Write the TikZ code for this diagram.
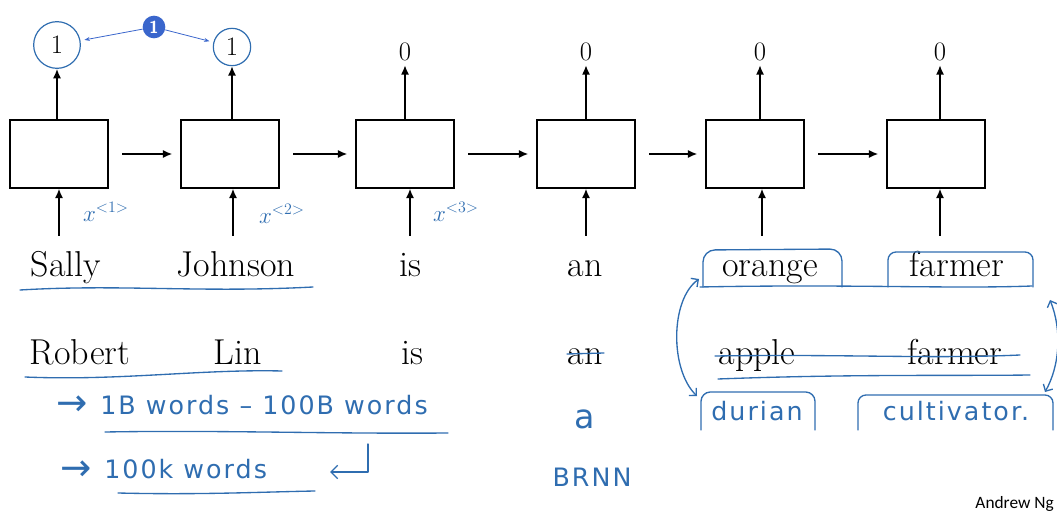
\documentclass[tikz,border=0pt]{standalone}
\usepackage{fontspec}
\usetikzlibrary{arrows.meta}
\definecolor{hblue}{HTML}{2F6DB0}
\definecolor{ablue}{HTML}{3A66CC}
\newfontfamily\notefont{Carlito}
\newfontfamily\handfont[LetterSpace=8]{DejaVu Sans}
\begin{document}
\begin{tikzpicture}[x=0.75pt,y=-0.75pt,
  rnn/.style={draw, line width=1.1pt, minimum width=73.5pt, minimum height=51pt, inner sep=0},
  word/.style={font=\fontsize{27}{30}\selectfont, inner sep=0, anchor=base},
  outlbl/.style={font=\fontsize{20}{22}\selectfont, inner sep=2pt},
  arr/.style={line width=1.1pt, -{Latex[length=7pt,width=6pt]}},
  hand/.style={hblue, line width=1pt, line cap=round, line join=round},
  harr/.style={hand, {Straight Barb[length=4pt]}-{Straight Barb[length=4pt]}},
  htext/.style={text=hblue, font=\handfont\fontsize{19}{22}\selectfont, inner sep=0, anchor=base west},
  hbig/.style={htext, font=\handfont\fontsize{28}{30}\selectfont},
  xlbl/.style={text=hblue, font=\fontsize{18}{20}\selectfont, inner sep=0},
]
\useasboundingbox (0,0) rectangle (1057,513);
\clip (0,0) rectangle (1057,513);

% RNN cells
\node[rnn] (b1) at (59,154) {};
\node[rnn] (b2) at (230,154) {};
\node[rnn] (b3) at (405,154) {};
\node[rnn] (b4) at (586,154) {};
\node[rnn] (b5) at (755,154) {};
\node[rnn] (b6) at (936,154) {};

\foreach \a/\b in {b1/b2,b2/b3,b3/b4,b4/b5,b5/b6}
  \draw[arr, shorten <=10pt, shorten >=6pt] (\a) -- (\b);

% outputs
\node[circle, draw=hblue, line width=0.9pt, inner sep=0, font=\fontsize{20}{22}\selectfont, minimum size=35pt] (o1) at (57,45) {1};
\node[circle, draw=hblue, line width=0.9pt, inner sep=0, font=\fontsize{20}{22}\selectfont, minimum size=28pt] (o2) at (232,47) {1};
\node[outlbl] (o3) at (405,52) {0};
\node[outlbl] (o4) at (586,52) {0};
\node[outlbl] (o5) at (760,52) {0};
\node[outlbl] (o6) at (940,52) {0};
\draw[arr] (b1.north -| o1) -- (o1.south);
\draw[arr] (b2.north -| o2) -- (o2.south);
\foreach \b/\o in {b3/o3,b4/o4,b5/o5,b6/o6}
  \draw[arr, shorten >=1pt] (\b.north -| \o) -- (\o.south);

% annotation
\node[circle, fill=ablue, text=white, inner sep=0, minimum size=17pt,
      font=\sffamily\bfseries\fontsize{13}{13}\selectfont] (ann) at (154,27) {1};
\draw[ablue, line width=0.6pt, -{Stealth[length=4pt,width=3pt]}, shorten >=3pt] (ann) -- (o1);
\draw[ablue, line width=0.6pt, -{Stealth[length=4pt,width=3pt]}, shorten >=3pt] (ann) -- (o2);

% inputs
\coordinate (i1) at (59,236);
\coordinate (i2) at (233,236);
\coordinate (i3) at (410,236);
\coordinate (i4) at (586,236);
\coordinate (i5) at (762,236);
\coordinate (i6) at (940,236);
\foreach \i/\b in {i1/b1,i2/b2,i3/b3,i4/b4,i5/b5,i6/b6}
  \draw[arr] (\i) -- (\i |- \b.south);

\node[xlbl] (x1) at (106,212) {$x^{<1>}$};
\node[xlbl] (x2) at (282,214) {$x^{<2>}$};
\node[xlbl] (x3) at (456,212) {$x^{<3>}$};

% sentence 1
\node[word] (w1) at (66,277) {Sally};
\node[word] (w2) at (236,277) {Johnson};
\node[word] (w3) at (410,277) {is};
\node[word] (w4) at (585,277) {an};
\node[word] (w5) at (770,277) {orange};
\node[word] (w6) at (957,277) {farmer};

% sentence 2
\node[word] (r1) at (80,364) {Robert};
\node[word] (r2) at (238,364) {Lin};
\node[word] (r3) at (412,364) {is};
\node[word] (r4) at (585,364) {an};
\node[word] (r5) at (757,364) {apple};
\node[word] (r6) at (955,364) {farmer};

% handwritten marks
\draw[hand] (20,290) .. controls (120,284) and (200,293) .. (313,287);
\draw[hand] (25,377) .. controls (120,381) and (200,369) .. (282,371);
\draw[hand] (567,354) -- (604,353);
\draw[hand] (715,356) .. controls (850,354) and (930,359) .. (1020,355);
\draw[hand] (718,379) .. controls (850,374) and (950,376) .. (1030,375);

\node[hbig] (n1a) at (56,416) {→};
\node[htext] (n1) at (100,414) {1B words – 100B words};
\draw[hand] (105,432) .. controls (220,430) and (330,434) .. (448,433);
\node[hbig] (n2a) at (60,480) {→};
\node[htext] (n2) at (104,478) {100k words};
\draw[hand] (118,493) .. controls (200,495) and (260,492) .. (315,491);
\coordinate (h1) at (368,444);
\coordinate (h2) at (368,472);
\coordinate (h3) at (330,472);
\draw[hand, -{Straight Barb[length=5pt]}] (h1) -- (h2) -- (h3);

\node[htext, anchor=base, font=\handfont\fontsize{25}{27}\selectfont] (na) at (585,428) {a};
\node[htext, anchor=base] (nb) at (592,486) {BRNN};

% boxes around orange / farmer
\draw[hand, rounded corners=9pt] (703,287) -- (703,250) -- (842,249) -- (842,287);
\draw[hand, rounded corners=6pt] (888,287) -- (888,252) -- (1033,252) -- (1033,287);
\draw[hand] (700,287) .. controls (850,284) and (950,289) .. (1032,286);

% durian / cultivator
\draw[hand, rounded corners=7pt] (701,430) -- (701,392) -- (815,392) -- (815,430);
\draw[hand, rounded corners=6pt] (858,430) -- (858,395) -- (1053,395) -- (1053,430);
\node[htext, anchor=base] (d1) at (757,420) {durian};
\node[htext, anchor=base] (d2) at (956,420) {cultivator.};

% double arrows
\coordinate (la) at (699,279);
\coordinate (lb) at (697,396);
\coordinate (ra) at (1050,300);
\coordinate (rb) at (1045,392);
\draw[harr] (la) .. controls (670,300) and (670,370) .. (lb);
\draw[harr] (ra) .. controls (1062,330) and (1060,365) .. (rb);

\node[font=\notefont\fontsize{13}{15}\selectfont, anchor=base east, inner sep=0] (ang) at (1054,508) {Andrew Ng};
\end{tikzpicture}
\end{document}
